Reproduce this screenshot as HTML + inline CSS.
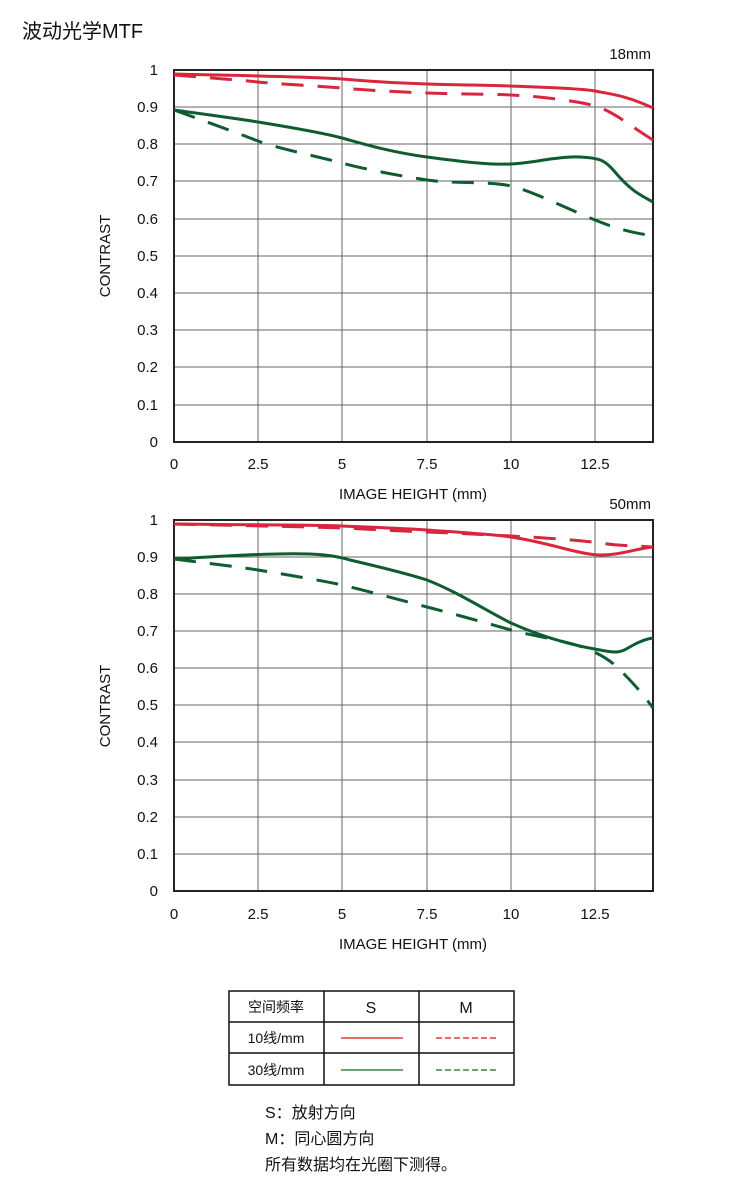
<!DOCTYPE html>
<html><head><meta charset="utf-8"><style>
body{margin:0;background:#fff;}
svg text{font-family:"Liberation Sans","Noto Sans CJK SC",sans-serif;fill:#111;}
</style></head><body>
<svg width="750" height="1188" xmlns="http://www.w3.org/2000/svg">
<text x="22" y="38" font-size="20">波动光学MTF</text>
<!-- Chart 1 -->
<g stroke="#666" stroke-width="1" fill="none">
<path d="M258 70V442M342 70V442M427 70V442M511 70V442M595 70V442"/>
<path d="M174 107H653M174 144H653M174 181H653M174 219H653M174 256H653M174 293H653M174 330H653M174 367H653M174 405H653"/>
</g>
<rect x="174" y="70" width="479" height="372" fill="none" stroke="#222" stroke-width="2"/>
<g font-size="15" text-anchor="end">
<text x="158" y="75">1</text><text x="158" y="112">0.9</text><text x="158" y="149">0.8</text><text x="158" y="186">0.7</text><text x="158" y="224">0.6</text><text x="158" y="261">0.5</text><text x="158" y="298">0.4</text><text x="158" y="335">0.3</text><text x="158" y="372">0.2</text><text x="158" y="410">0.1</text><text x="158" y="447">0</text>
</g>
<g font-size="15" text-anchor="middle">
<text x="174" y="469">0</text><text x="258" y="469">2.5</text><text x="342" y="469">5</text><text x="427" y="469">7.5</text><text x="511" y="469">10</text><text x="595" y="469">12.5</text>
<text x="413" y="499">IMAGE HEIGHT (mm)</text>
</g>
<text x="651" y="59" font-size="15" text-anchor="end">18mm</text>
<text transform="translate(110,256) rotate(-90)" font-size="15" text-anchor="middle">CONTRAST</text>
<g fill="none" stroke-width="3" stroke-linejoin="round" stroke-linecap="butt">
<path stroke="#d9263d" d="M174 74C260 76 320 77 342 79S400 83 427 84S490 85 511 86S580 88 595 91S625 95 653 108"/>
<path stroke="#d9263d" stroke-dasharray="22,14" d="M174 75C210 78 240 80 258 82S320 86 342 88S400 92 427 93S490 94 511 95S575 100 595 106S630 126 653 140"/>
<path stroke="#0e5c30" d="M174 110C210 115 240 119 258 122S320 132 342 138S390 152 427 157S490 165 511 164S560 156 580 157C600 158 605 160 615 172C630 190 640 195 653 202"/>
<path stroke="#0e5c30" stroke-dasharray="22,14" d="M174 110C210 123 240 134 258 141S320 157 342 163S400 176 427 180S490 181 511 186S570 210 595 220S630 232 653 236"/>
</g>
<!-- Chart 2 -->
<g stroke="#666" stroke-width="1" fill="none">
<path d="M258 520V891M342 520V891M427 520V891M511 520V891M595 520V891"/>
<path d="M174 557H653M174 594H653M174 631H653M174 668H653M174 705H653M174 742H653M174 780H653M174 817H653M174 854H653"/>
</g>
<rect x="174" y="520" width="479" height="371" fill="none" stroke="#222" stroke-width="2"/>
<g font-size="15" text-anchor="end">
<text x="158" y="525">1</text><text x="158" y="562">0.9</text><text x="158" y="599">0.8</text><text x="158" y="636">0.7</text><text x="158" y="673">0.6</text><text x="158" y="710">0.5</text><text x="158" y="747">0.4</text><text x="158" y="785">0.3</text><text x="158" y="822">0.2</text><text x="158" y="859">0.1</text><text x="158" y="896">0</text>
</g>
<g font-size="15" text-anchor="middle">
<text x="174" y="919">0</text><text x="258" y="919">2.5</text><text x="342" y="919">5</text><text x="427" y="919">7.5</text><text x="511" y="919">10</text><text x="595" y="919">12.5</text>
<text x="413" y="949">IMAGE HEIGHT (mm)</text>
</g>
<text x="651" y="509" font-size="15" text-anchor="end">50mm</text>
<text transform="translate(110,706) rotate(-90)" font-size="15" text-anchor="middle">CONTRAST</text>
<g fill="none" stroke-width="3" stroke-linejoin="round">
<path stroke="#d9263d" d="M174 524C260 525 320 525 342 526S400 528 427 530S490 534 511 537S550 545 570 550S600 556 615 554S640 548 653 547"/>
<path stroke="#d9263d" stroke-dasharray="22,14" d="M174 524C260 526 320 527 342 528S400 531 427 532S490 535 511 536S580 540 600 543S640 546 653 547"/>
<path stroke="#0e5c30" d="M174 559C240 555 280 553 310 554C330 555 340 557 350 560C380 567 405 573 427 580C460 593 490 613 511 623C540 636 570 645 600 650C615 653 620 653 628 648C638 642 645 639 653 638"/>
<path stroke="#0e5c30" stroke-dasharray="22,14" d="M174 559C220 565 240 567 258 570S320 580 342 585S400 600 427 607S490 624 511 630S570 641 590 650S615 665 625 675S645 697 653 708"/>
</g>
<!-- Table -->
<g stroke="#111" stroke-width="1.5" fill="none">
<rect x="229" y="991" width="285" height="94"/>
<path d="M229 1022H514M229 1053H514M324 991V1085M419 991V1085"/>
</g>
<g font-size="14" text-anchor="middle">
<text x="276" y="1012">空间频率</text><text x="371" y="1013" font-size="16">S</text><text x="466" y="1013" font-size="16">M</text>
<text x="276" y="1043">10线/mm</text><text x="276" y="1075">30线/mm</text>
</g>
<g stroke-width="1.3">
<path stroke="#e01010" d="M341 1038H403"/>
<path stroke="#e01010" stroke-dasharray="6,3" d="M436 1038H498"/>
<path stroke="#1a6a1a" d="M341 1070H403"/>
<path stroke="#1a6a1a" stroke-dasharray="6,3" d="M436 1070H498"/>
</g>
<g font-size="16">
<text x="265" y="1118">S：放射方向</text>
<text x="265" y="1144">M：同心圆方向</text>
<text x="265" y="1170">所有数据均在光圈下测得。</text>
</g>
</svg>
</body></html>
